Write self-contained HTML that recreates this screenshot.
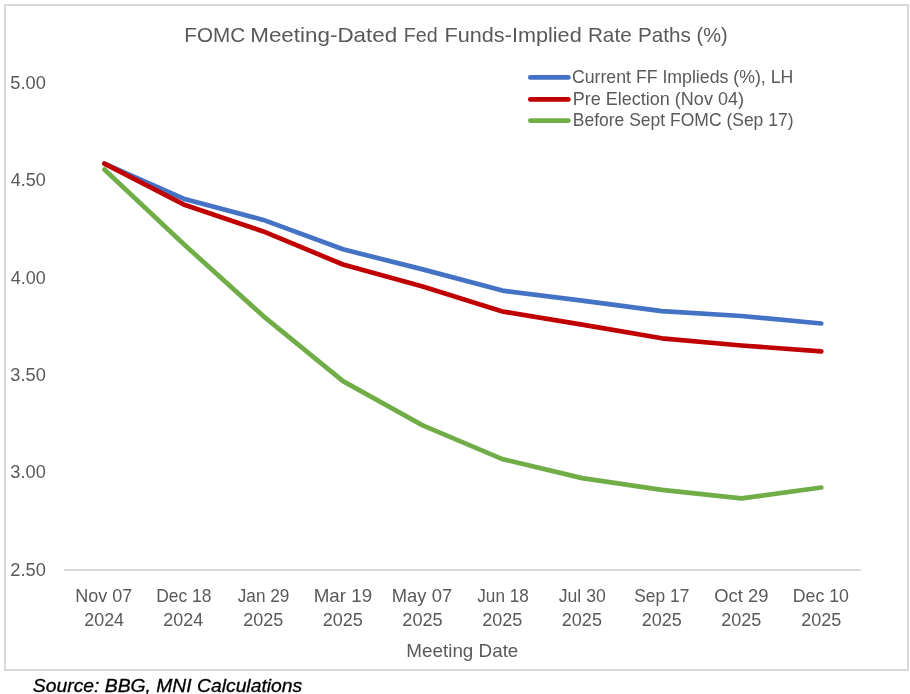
<!DOCTYPE html>
<html lang="en"><head><meta charset="utf-8"><title>FOMC Meeting-Dated Fed Funds-Implied Rate Paths (%)</title>
<style>
html,body{margin:0;padding:0;background:#fff;}
body{width:910px;height:694px;overflow:hidden;}
svg{display:block;}
text{font-family:"Liberation Sans",sans-serif;fill:#595959;}
.l{fill:none;stroke-width:4.7;stroke-linecap:round;stroke-linejoin:round;}
</style></head><body>
<svg width="910" height="694" viewBox="0 0 910 694">
<rect x="0" y="0" width="910" height="694" fill="#fff"/>
<rect x="5" y="5" width="903" height="665" fill="#fff" stroke="#d9d9d9" stroke-width="2"/>
<rect x="64" y="569" width="797" height="2" fill="#d9d9d9"/>
<text id="title" y="42.3" font-size="20.6"><tspan x="184.34" textLength="60.84" lengthAdjust="spacingAndGlyphs">FOMC</tspan> <tspan x="250.21" textLength="147.06" lengthAdjust="spacingAndGlyphs">Meeting-Dated</tspan> <tspan x="403.69" textLength="33.89" lengthAdjust="spacingAndGlyphs">Fed</tspan> <tspan x="444.51" textLength="137.17" lengthAdjust="spacingAndGlyphs">Funds-Implied</tspan> <tspan x="587.91" textLength="43.79" lengthAdjust="spacingAndGlyphs">Rate</tspan> <tspan x="638.08" textLength="52.84" lengthAdjust="spacingAndGlyphs">Paths</tspan> <tspan x="696.52" textLength="31.06" lengthAdjust="spacingAndGlyphs">(%)</tspan></text>
<text id="y0" x="10.27" y="88.8" font-size="17.7" textLength="35.56" lengthAdjust="spacingAndGlyphs">5.00</text>
<text id="y1" x="10.79" y="186.2" font-size="17.7" textLength="35.03" lengthAdjust="spacingAndGlyphs">4.50</text>
<text id="y2" x="10.79" y="283.6" font-size="17.7" textLength="35.03" lengthAdjust="spacingAndGlyphs">4.00</text>
<text id="y3" x="10.27" y="381.0" font-size="17.7" textLength="35.56" lengthAdjust="spacingAndGlyphs">3.50</text>
<text id="y4" x="10.27" y="478.4" font-size="17.7" textLength="35.56" lengthAdjust="spacingAndGlyphs">3.00</text>
<text id="y5" x="10.26" y="575.8" font-size="17.7" textLength="35.57" lengthAdjust="spacingAndGlyphs">2.50</text>
<text id="xa0" x="75.30" y="601.5" font-size="17.7" textLength="57.03" lengthAdjust="spacingAndGlyphs">Nov 07</text>
<text id="xb0" x="84.23" y="625.7" font-size="17.7" textLength="39.84" lengthAdjust="spacingAndGlyphs">2024</text>
<text id="xa1" x="156.25" y="601.5" font-size="17.7" textLength="55.18" lengthAdjust="spacingAndGlyphs">Dec 18</text>
<text id="xb1" x="163.32" y="625.7" font-size="17.7" textLength="39.84" lengthAdjust="spacingAndGlyphs">2024</text>
<text id="xa2" x="237.75" y="601.5" font-size="17.7" textLength="51.57" lengthAdjust="spacingAndGlyphs">Jan 29</text>
<text id="xb2" x="243.17" y="625.7" font-size="17.7" textLength="40.11" lengthAdjust="spacingAndGlyphs">2025</text>
<text id="xa3" x="313.70" y="601.5" font-size="17.7" textLength="58.43" lengthAdjust="spacingAndGlyphs">Mar 19</text>
<text id="xb3" x="322.76" y="625.7" font-size="17.7" textLength="40.11" lengthAdjust="spacingAndGlyphs">2025</text>
<text id="xa4" x="391.80" y="601.5" font-size="17.7" textLength="60.34" lengthAdjust="spacingAndGlyphs">May 07</text>
<text id="xb4" x="402.37" y="625.7" font-size="17.7" textLength="40.36" lengthAdjust="spacingAndGlyphs">2025</text>
<text id="xa5" x="477.29" y="601.5" font-size="17.7" textLength="51.52" lengthAdjust="spacingAndGlyphs">Jun 18</text>
<text id="xb5" x="482.22" y="625.7" font-size="17.7" textLength="40.10" lengthAdjust="spacingAndGlyphs">2025</text>
<text id="xa6" x="558.69" y="601.5" font-size="17.7" textLength="47.07" lengthAdjust="spacingAndGlyphs">Jul 30</text>
<text id="xb6" x="561.82" y="625.7" font-size="17.7" textLength="40.11" lengthAdjust="spacingAndGlyphs">2025</text>
<text id="xa7" x="634.23" y="601.5" font-size="17.7" textLength="55.10" lengthAdjust="spacingAndGlyphs">Sep 17</text>
<text id="xb7" x="641.67" y="625.7" font-size="17.7" textLength="40.11" lengthAdjust="spacingAndGlyphs">2025</text>
<text id="xa8" x="714.23" y="601.5" font-size="17.7" textLength="54.14" lengthAdjust="spacingAndGlyphs">Oct 29</text>
<text id="xb8" x="721.26" y="625.7" font-size="17.7" textLength="40.11" lengthAdjust="spacingAndGlyphs">2025</text>
<text id="xa9" x="792.75" y="601.5" font-size="17.7" textLength="56.22" lengthAdjust="spacingAndGlyphs">Dec 10</text>
<text id="xb9" x="801.17" y="625.7" font-size="17.7" textLength="40.11" lengthAdjust="spacingAndGlyphs">2025</text>
<text id="xt" x="406.37" y="657.0" font-size="17.7" textLength="111.99" lengthAdjust="spacingAndGlyphs">Meeting Date</text>
<text id="l0" x="571.94" y="83.0" font-size="17.7" textLength="221.32" lengthAdjust="spacingAndGlyphs">Current FF Implieds (%), LH</text>
<text id="l1" x="572.73" y="105.0" font-size="17.7" textLength="171.23" lengthAdjust="spacingAndGlyphs">Pre Election (Nov 04)</text>
<text id="l2" x="572.74" y="126.0" font-size="17.7" textLength="220.77" lengthAdjust="spacingAndGlyphs">Before Sept FOMC (Sep 17)</text>
<text id="src" x="32.85" y="692.2" font-size="18.2" textLength="269.35" lengthAdjust="spacingAndGlyphs" font-style="italic" style="fill:#000;stroke:#000;stroke-width:0.3">Source: BBG, MNI Calculations</text>
<polyline class="l" stroke="#4472c4" points="104.4,163.6 183.6,198.7 263.3,219.9 343.0,249.3 422.7,269.4 502.4,290.6 582.1,300.7 661.8,311.2 741.5,316.0 821.3,323.5"/>
<polyline class="l" stroke="#c00000" points="104.4,163.6 183.6,204.4 263.3,231.4 343.0,264.5 422.7,286.6 502.4,311.5 582.1,324.6 661.8,338.3 741.5,345.5 821.3,351.4"/>
<polyline class="l" stroke="#70ad47" points="104.4,169.5 183.6,244.0 263.3,316.1 343.0,381.1 422.7,425.4 502.4,459.1 582.1,478.1 661.8,489.9 741.5,498.3 821.3,487.5"/>
<line class="l" stroke="#4472c4" x1="530.3" y1="77.4" x2="568.4" y2="77.4"/>
<line class="l" stroke="#c00000" x1="530.3" y1="99.4" x2="568.4" y2="99.4"/>
<line class="l" stroke="#70ad47" x1="530.3" y1="120.6" x2="568.4" y2="120.6"/>
</svg></body></html>
